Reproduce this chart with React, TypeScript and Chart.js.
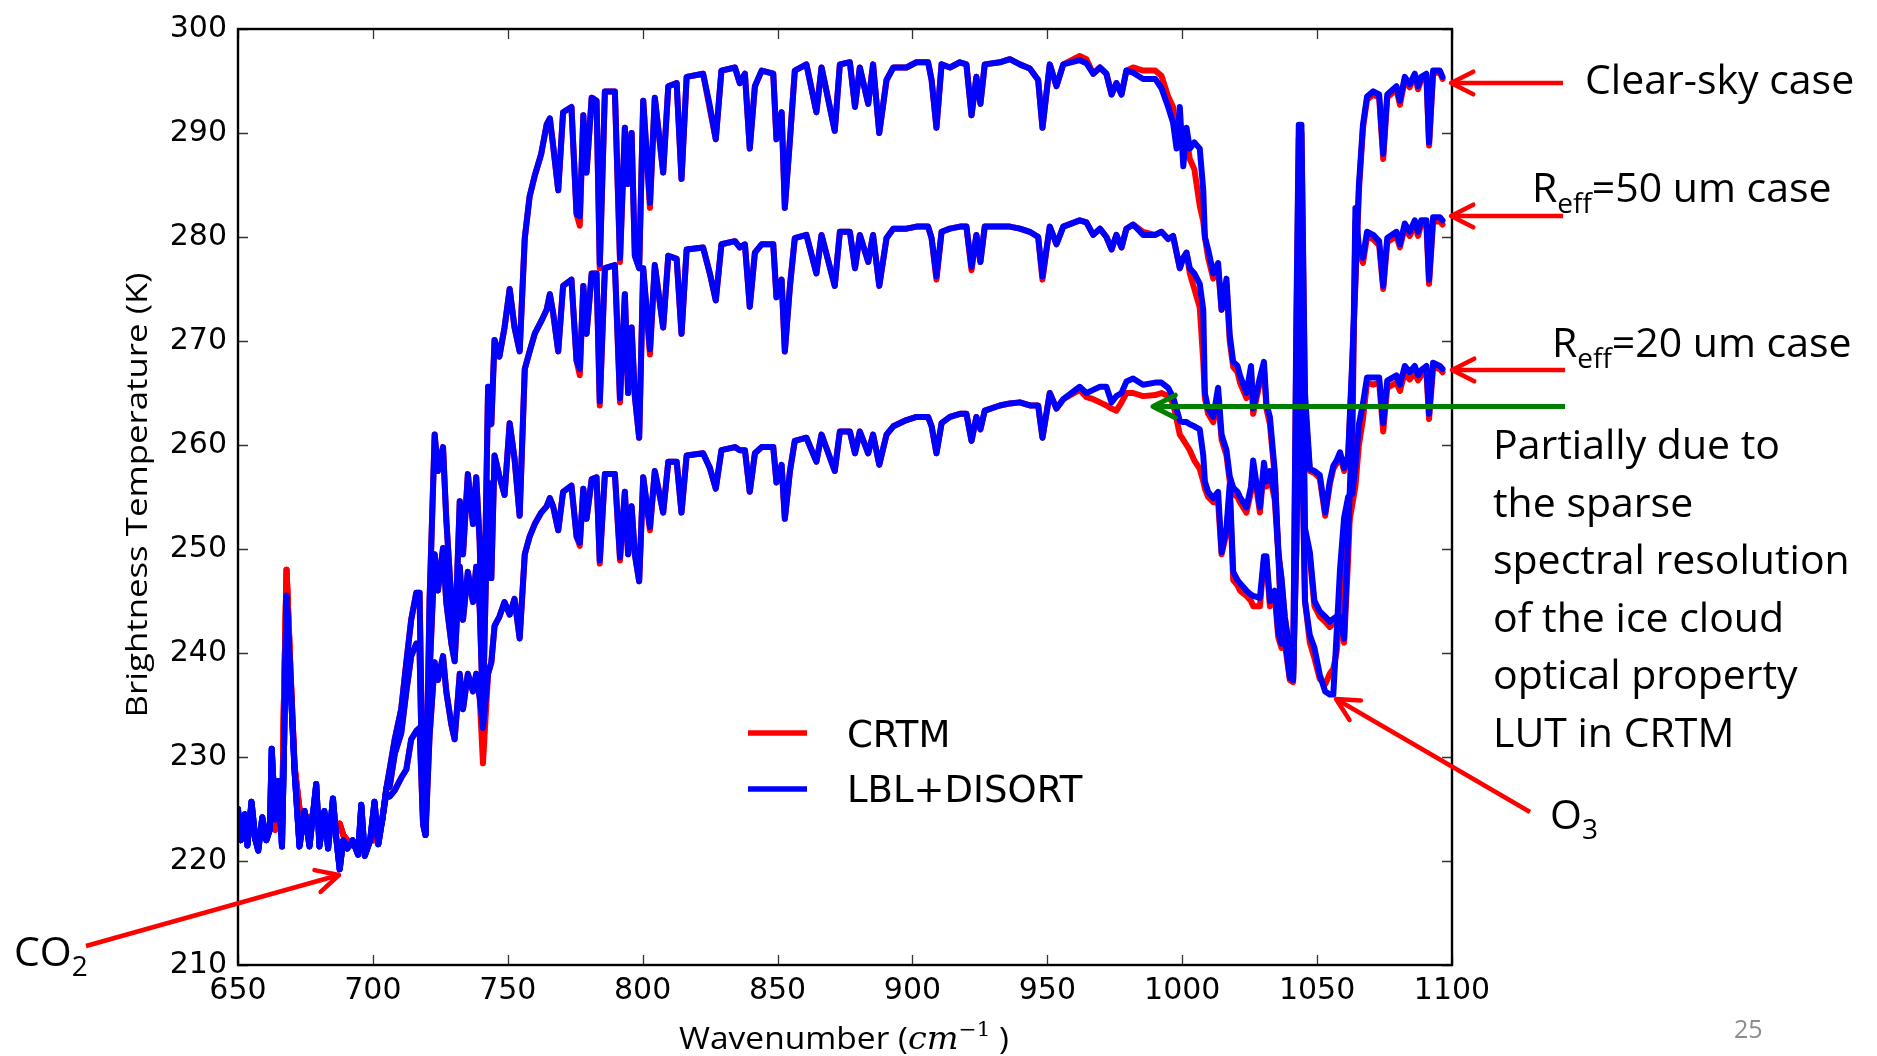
import React, { useEffect, useRef } from "react";
import { Chart, registerables } from "chart.js";

Chart.register(...registerables);

// ---------- DATA ----------
// Wavenumbers (cm^-1) of the opaque CO2 band, where all three cases coincide
const wnCO2 = [650, 651, 652.5, 653.5, 655, 656.5, 657.5, 659, 660.5, 661.8, 662.5, 663.8, 665, 666.3, 667, 668, 669.5, 671, 672.8, 674.7, 676.5, 679, 680.2, 682, 683.4, 685.2, 686.5, 687.7, 689, 690.5, 692.5, 694.5, 695.7, 697, 699, 700.6, 702, 703.5];
const co2Crtm = [223, 222, 223, 222, 224, 222, 221.5, 223.5, 222.5, 223, 224, 223, 226, 223, 235, 248, 238, 229, 225, 224.5, 224, 225, 224, 224.5, 224, 224, 223, 223.6, 222.5, 222, 221.5, 221.5, 221.5, 221, 222, 222, 222.5, 224];
const co2Lbl = [225, 222, 224.5, 221.5, 225.7, 222, 221, 224.2, 222, 223, 230.8, 224, 227.7, 221.4, 230, 245.5, 237, 228.5, 221.4, 224.8, 221.4, 227.4, 221.4, 224.8, 221.2, 226, 222, 219.2, 222, 221.2, 222, 220.6, 225.4, 220.5, 222, 225.7, 221.6, 224];

// Wavenumbers (cm^-1) for the rest of the spectrum, where the three cases split
const wnMain = [
  705, 706.2, 708.1, 710.5, 712.4, 714.2, 716.1, 717.3, 718.6, 719.5, 721, 722.9, 724.1, 726, 727.2, 729.1, 730.3, 732.2, 733.4, 735.2, 737.1, 738.3, 739.6, 740.8, 742.7, 743.9, 745.1, 746.9, 748.8, 750.7, 752.5, 754.4, 756.3, 758.1, 760, 762.4,
  764.4, 765.6, 766.8, 768.7, 770.5, 773.6, 775.5, 776.7, 778, 779.2, 781.1, 782.9, 784.1, 786, 789.7, 791.6, 793.4, 794.6, 795.9, 797.1, 798.7, 800.2, 802.7, 804.5, 807.6, 809.5, 812.6, 814.4, 816.3, 822.4, 824.9, 827.1, 829.2, 834.2, 836, 837.9, 839.7, 841.6, 844.1, 848.4, 849.6, 851.5, 852.7, 854.6, 856.4, 860.7, 864.4, 866.3, 871.2, 873.1, 876.8,
  878.7, 880.5, 883.6, 885.4, 887.7, 890.4, 892.9, 897.8, 901.5, 905.8, 907.1, 908.9, 910.8, 913.9, 917.6, 920, 921.9, 923.7, 925.2, 926.8, 932.4, 936.1, 939.8, 943.5, 946.6, 948.2, 950.9, 953.4, 955.9, 962, 964.5, 967, 969.5, 971.9, 973.8, 975.6, 977.5, 979.3, 981.8, 985.5,
  990, 992.3, 994.8, 996.6, 997.9, 999.1, 1000.4, 1001.6, 1002.8, 1004.5, 1006.5, 1007.8, 1008.4, 1009.6, 1011.5, 1013.3, 1014.6, 1016.4, 1017.6, 1018.9, 1020.5, 1021.4, 1023.8, 1025.5, 1026.3, 1028.8, 1030.3, 1031.2, 1032.5, 1034.3, 1035.6, 1036.8, 1038, 1039.9, 1041.1, 1042.3, 1043.2, 1044.2, 1045.5, 1047.3, 1049, 1051, 1053, 1054.7, 1056, 1057.2, 1058.5, 1060, 1061.5, 1063, 1064.2, 1065.5, 1067, 1068.5, 1070.8, 1073, 1074.5, 1076, 1079.4, 1080.7, 1082.5, 1084.3, 1086.2, 1087.4, 1088.6, 1090.5, 1091.5, 1093, 1095.5, 1096.5,
];

// Clear-sky case (K)
const clearCrtm = [
  227, 228.8, 231.7, 234.6, 239.1, 243.2, 245.8, 245.8, 225, 222.5, 245, 261, 257.5, 259.8, 252.9, 244.9, 240.3, 254.6, 249.5, 257.2, 252.4, 256.9, 250.6, 236.9, 265.6, 262, 270.1, 268.5, 271.3, 275, 271.3, 269, 279.9, 283.9, 285.9, 288,
  290.8, 291.4, 288.8, 284.5, 292, 292.5, 282.2, 281.1, 291.7, 286.2, 293.4, 293.1, 277, 294, 294, 277.6, 290.5, 285.1, 290, 278.2, 277, 293.1, 282.8, 293.4, 286.2, 294.5, 294.8, 285.6, 295.4, 295.7, 292.3, 289.4, 296, 296.3, 294.8, 295.7, 288.5, 294.5, 296, 295.7, 289.4, 292, 282.8, 289.4, 296, 296.6, 292, 296.3, 290.2, 296.6, 296.8,
  292.5, 296.3, 292.8, 296.6, 290, 295.1, 296.3, 296.3, 296.8, 296.8, 295.1, 290.5, 296.6, 296.3, 296.8, 296.6, 291.7, 295.4, 292.8, 296.6, 296.8, 297.1, 296.6, 296.2, 295.1, 290.5, 296.6, 294.5, 296.6, 297.4, 297.1, 295.7, 296.3, 295.7, 293.7, 294.8, 293.7, 296, 296.3, 296,
  296, 295.5, 293.5, 292.5, 290, 290.5, 288, 289.5, 287.5, 286.5, 283, 281.5, 280, 278, 276, 277, 273, 275.5, 270, 267.5, 267, 266, 264.5, 267, 263, 266, 267.3, 263.5, 262, 257, 250, 247, 243.5, 240, 237.5, 270, 289.5, 290, 264, 257.5, 257.3, 256.8, 253.2, 256.2, 257.7, 258.2, 259, 257.5, 258.7, 267.5, 275.5, 284.5, 290.5, 293.2, 293.7, 293.4, 287.5, 293.4, 294.2, 292.7, 295.1, 294.4, 295.5, 294.2, 295.1, 295.5, 288.8, 295.8, 295.8, 295.2,
];
const clearLbl = [
  227, 228.8, 231.7, 234.6, 239.1, 243.2, 245.8, 245.8, 225, 222.5, 245, 261, 257.5, 259.8, 252.9, 244.9, 240.3, 254.6, 249.5, 257.2, 252.4, 256.9, 250.6, 236.9, 265.6, 262, 270.1, 268.5, 271.3, 275, 271.3, 269, 279.9, 283.9, 285.9, 288,
  290.8, 291.4, 288.8, 284.5, 292, 292.5, 282.2, 282, 291.7, 286.2, 293.4, 293.1, 277.4, 294, 294, 278, 290.5, 285.1, 290, 278.2, 277, 293.1, 283.3, 293.4, 286.2, 294.5, 294.8, 285.6, 295.4, 295.7, 292.6, 289.4, 296, 296.3, 294.8, 295.7, 288.5, 294.5, 296, 295.7, 289.4, 292, 282.8, 289.4, 296, 296.6, 292, 296.3, 290.2, 296.6, 296.8,
  292.5, 296.3, 292.8, 296.6, 290, 295.1, 296.3, 296.3, 296.8, 296.8, 295.1, 290.5, 296.6, 296.3, 296.8, 296.6, 291.7, 295.4, 292.8, 296.6, 296.8, 297.1, 296.6, 296.2, 295.1, 290.5, 296.6, 294.5, 296.6, 297, 296.7, 295.7, 296.3, 295.7, 293.7, 294.8, 293.7, 296, 295.8, 295.2,
  295.2, 294.3, 292.5, 291, 288.5, 292.5, 286.8, 290.5, 288.5, 289.1, 288.5, 284.5, 280, 278.8, 276.5, 277.5, 273, 276, 270.6, 268, 267.6, 266.7, 265, 267.6, 263.5, 266.5, 268, 264, 262.7, 257.5, 249.5, 247.2, 243.5, 240, 237.4, 272, 290.8, 290.8, 265, 257.7, 257.5, 257.1, 253.5, 256.5, 258, 258.5, 259.3, 257.8, 259, 268, 276, 285, 290.8, 293.5, 294, 293.7, 288, 293.7, 294.5, 293.1, 295.4, 294.7, 295.7, 294.5, 295.4, 295.7, 289.1, 296, 296, 295.4,
];

// R_eff = 50 um case (K)
const r50Crtm = [
  227, 227.1, 230.3, 232.3, 236.3, 239.7, 240.9, 240.3, 224, 222.5, 238, 249.5, 246, 250.1, 244.9, 240.9, 239.2, 248.3, 243.2, 247.8, 244.9, 248.3, 244.3, 234.6, 256.4, 247.2, 259, 257, 255.2, 262.1, 258.7, 253.2, 267.3, 269, 270.7, 271.9,
  273, 274.5, 272.7, 269, 275.3, 275.9, 268.1, 266.7, 275.3, 270.7, 276.5, 276.5, 263.8, 277, 277.3, 264.1, 274.5, 265, 271.3, 264.7, 260.7, 277, 268.7, 277.3, 271.3, 278.2, 277.9, 270.7, 278.8, 279, 276.5, 273.9, 279.3, 279.6, 279, 279.3, 273.3, 278.5, 279.3, 279.3, 274.2, 275.9, 269, 275.3, 279.9, 280.2, 276.5, 280.2, 275.3, 280.5, 280.5,
  277, 280.2, 277.6, 280.2, 275.3, 279.9, 280.8, 280.8, 281, 281, 279.9, 275.9, 280.5, 280.8, 281, 281, 276.8, 280.2, 277.6, 281, 281, 281, 280.8, 280.5, 280, 275.9, 281, 279.3, 281, 281.6, 281.4, 280.2, 280.8, 280, 278.8, 280.2, 279, 280.8, 281.2, 280.5,
  280.2, 280.5, 279.8, 280.1, 278.5, 277, 278, 278.5, 276.5, 275, 273.2, 268, 264.5, 263, 262.2, 264.5, 260.5, 259, 256.5, 255.3, 255, 254.5, 253.5, 255.5, 258, 253.5, 257.8, 256, 257, 254.7, 249.5, 242.5, 241.5, 240.5, 238, 255, 277, 277.5, 251.5, 249.2, 244.5, 243.5, 243, 242.5, 242.8, 243, 243, 241, 249, 259, 281.5, 278.5, 277.5, 280, 279.8, 279.2, 275, 279.5, 280.1, 279, 280.9, 280.1, 281.2, 280.1, 281.2, 281.2, 275.5, 281.5, 281.5, 281.2,
];
const r50Lbl = [
  227, 227.1, 230.3, 232.3, 236.3, 239.7, 240.9, 240.3, 224, 222.5, 238, 249.5, 246, 250.1, 244.9, 240.9, 239.2, 248.3, 243.2, 247.8, 244.9, 248.3, 244.3, 234.6, 256.4, 247.2, 259, 257, 255.2, 262.1, 258.7, 253.2, 267.3, 269, 270.7, 271.9,
  273, 274.5, 272.7, 269, 275.3, 275.9, 268.1, 267.3, 275.3, 270.7, 276.5, 276.5, 264.2, 277, 277.3, 264.5, 274.5, 265, 271.3, 264.7, 260.7, 277, 269.2, 277.3, 271.3, 278.2, 277.9, 270.7, 278.8, 279, 276.5, 273.9, 279.3, 279.6, 279, 279.3, 273.3, 278.5, 279.3, 279.3, 274.2, 275.9, 269, 275.3, 279.9, 280.2, 276.5, 280.2, 275.3, 280.5, 280.5,
  277, 280.2, 277.6, 280.2, 275.3, 279.9, 280.8, 280.8, 281, 281, 279.9, 276.2, 280.5, 280.8, 281, 281, 277.1, 280.2, 277.6, 281, 281, 281, 280.8, 280.5, 280, 276.2, 281, 279.3, 281, 281.6, 281.4, 280.2, 280.8, 280, 278.8, 280.2, 279, 280.8, 281.2, 280.2,
  280.2, 280.5, 279.8, 280.1, 278.5, 277, 278, 278.5, 277, 276.5, 275.5, 273, 265, 263.5, 262.7, 265.5, 261, 259.5, 257, 255.9, 255.5, 255, 254, 256, 258.5, 254, 258.3, 256.5, 257.5, 255.2, 250, 243, 242, 241, 238.5, 255, 277.6, 278, 252, 249.7, 245, 244, 243.5, 243, 243.3, 243.5, 243.5, 241.4, 251.3, 262, 282.8, 279, 278, 280.5, 280.2, 279.6, 275.3, 279.9, 280.5, 279.3, 281.3, 280.5, 281.6, 280.5, 281.6, 281.6, 275.9, 281.9, 281.9, 281.6,
];

// R_eff = 20 um case (K)
const r20Crtm = [
  226.5, 226.2, 226.8, 228, 228.8, 231.7, 232.5, 232.8, 223.5, 222.5, 232, 239.1, 237.4, 239.7, 236.3, 233.1, 231.7, 238, 234.6, 238, 236.3, 238, 235.7, 229.4, 238, 239.1, 242.6, 243.5, 244.9, 243.7, 245.2, 241.4, 249.5, 251.2, 252.4, 253.5,
  254.1, 254.9, 254.1, 251.8, 255.5, 256.1, 251.2, 250.3, 255.8, 252.9, 256.7, 256.9, 248.6, 257.2, 257.2, 248.9, 255.5, 249.5, 254.1, 249.5, 246.9, 256.9, 251.8, 257.5, 253.5, 258.4, 258.4, 253.5, 259, 259.2, 257.8, 255.8, 259.5, 259.8, 259.5, 259.5, 255.5, 259.2, 259.8, 259.8, 256.4, 258.1, 252.9, 257.5, 260.4, 260.7, 258.4, 261, 257.5, 261.3, 261.3,
  259.2, 261.3, 259.2, 261, 258.1, 261, 261.8, 262.4, 262.7, 262.7, 261.8, 259.2, 262.1, 262.7, 263, 263, 260.4, 262.7, 261.5, 263.3, 263.8, 264, 264.1, 263.8, 263.8, 260.7, 265, 263.5, 264.4, 265.3, 264.6, 264.4, 264.1, 263.8, 263.5, 263.3, 264.1, 265, 265, 264.7,
  264.8, 265, 264.7, 264, 262.5, 261, 260.5, 260, 259.5, 258.5, 257.7, 256.5, 255.8, 255, 254.5, 254.5, 249.5, 251.5, 255.5, 247, 246.5, 246, 245.5, 245, 244.5, 244.5, 249, 249, 244.5, 245.5, 241.5, 240.5, 241, 237.4, 237.2, 250, 265, 264, 245, 241, 239.5, 237.5, 237, 238, 238.5, 240, 243.5, 249, 252, 254.2, 256, 260, 262.5, 266, 265.8, 266, 261.3, 265.5, 266, 265.2, 267, 266.3, 267, 266.2, 266.7, 267, 262.5, 267.5, 267.3, 267,
];
const r20Lbl = [
  226.5, 226.2, 226.8, 228, 228.8, 231.7, 232.5, 232.8, 223.5, 222.5, 232, 239.1, 237.4, 239.7, 236.3, 233.1, 231.7, 238, 234.6, 238, 236.3, 238, 235.7, 232.8, 238, 239.1, 242.6, 243.5, 244.9, 243.7, 245.2, 241.4, 249.5, 251.2, 252.4, 253.5,
  254.1, 254.9, 254.1, 251.8, 255.5, 256.1, 251.2, 250.6, 255.8, 252.9, 256.7, 256.9, 248.9, 257.2, 257.2, 249.2, 255.5, 249.5, 254.1, 249.5, 246.9, 256.9, 252.1, 257.5, 253.5, 258.4, 258.4, 253.5, 259, 259.2, 257.8, 255.8, 259.5, 259.8, 259.5, 259.5, 255.5, 259.2, 259.8, 259.8, 256.4, 258.1, 252.9, 257.5, 260.4, 260.7, 258.4, 261, 257.5, 261.3, 261.3,
  259.2, 261.3, 259.2, 261, 258.1, 261, 261.8, 262.4, 262.7, 262.7, 261.8, 259.2, 262.1, 262.7, 263, 263, 260.4, 262.7, 261.5, 263.3, 263.8, 264, 264.1, 263.8, 263.8, 260.7, 265, 263.5, 264.4, 265.6, 265, 265.3, 265.6, 265.6, 264.1, 264.7, 265, 266.1, 266.4, 265.8,
  266, 266, 265.5, 264.6, 263.5, 262.3, 262.2, 262.2, 262, 261.8, 261.5, 259, 256.5, 255.5, 254.9, 255.5, 249.7, 252, 256.2, 247.8, 247, 246.7, 246, 245.6, 245.5, 245.3, 249.3, 249.3, 245, 246, 242, 240.9, 241.5, 237.6, 237.5, 250, 265, 264, 245, 241.7, 240.5, 237.9, 236.3, 236, 236, 241.7, 248.1, 253, 255, 255.3, 258, 262, 264, 266.5, 266.5, 266.5, 262.1, 266.2, 266.7, 265.8, 267.6, 267, 267.6, 266.7, 267.2, 267.6, 263, 267.9, 267.6, 267.3,
];

const xTicks = [650, 700, 750, 800, 850, 900, 950, 1000, 1050, 1100];
const yTicks = [210, 220, 230, 240, 250, 260, 270, 280, 290, 300];
const seriesLabels = ["CRTM", "LBL+DISORT"];
const caseLabels = ["Clear-sky case", "=50 um case", "=20 um case"];
const noteLines = ["Partially due to", "the sparse", "spectral resolution", "of the ice cloud", "optical property", "LUT in CRTM"];

const RED = "#ff0000";
const BLUE = "#0000ff";
const GREEN = "#008000";
const ANN_FONT = '41px "Open Sans"';
const SUB_FONT = '28px "Open Sans"';
const LINE_W = 6;

function arrow(ctx: CanvasRenderingContext2D, tx: number, ty: number, hx: number, hy: number, color: string, width: number) {
  ctx.save();
  ctx.strokeStyle = color;
  ctx.lineWidth = width;
  ctx.lineCap = "butt";
  ctx.lineJoin = "round";
  ctx.beginPath();
  ctx.moveTo(tx, ty);
  ctx.lineTo(hx, hy);
  ctx.stroke();
  const ang = Math.atan2(ty - hy, tx - hx);
  const len = 25;
  const spread = (27 * Math.PI) / 180;
  ctx.lineCap = "round";
  ctx.beginPath();
  ctx.moveTo(hx + len * Math.cos(ang + spread), hy + len * Math.sin(ang + spread));
  ctx.lineTo(hx, hy);
  ctx.lineTo(hx + len * Math.cos(ang - spread), hy + len * Math.sin(ang - spread));
  ctx.stroke();
  ctx.restore();
}

function rich(ctx: CanvasRenderingContext2D, x: number, base: number, parts: { t: string; font: string; dy?: number }[]) {
  let cx = x;
  for (const p of parts) {
    ctx.font = p.font;
    ctx.fillText(p.t, cx, base + (p.dy || 0));
    cx += ctx.measureText(p.t).width;
  }
}

const decorPlugin = {
  id: "decor",
  afterDraw(chart: any) {
    const ctx: CanvasRenderingContext2D = chart.ctx;
    const a = chart.chartArea;
    const xs = chart.scales.x;
    const ys = chart.scales.y;
    ctx.save();
    ctx.strokeStyle = "#333";
    ctx.lineWidth = 1.3;
    ctx.beginPath();
    for (const v of xTicks) {
      const px = Math.round(xs.getPixelForValue(v)) + 0.5;
      ctx.moveTo(px, a.bottom);
      ctx.lineTo(px, a.bottom - 10);
      ctx.moveTo(px, a.top);
      ctx.lineTo(px, a.top + 10);
    }
    for (const v of yTicks) {
      const py = Math.round(ys.getPixelForValue(v)) + 0.5;
      ctx.moveTo(a.left, py);
      ctx.lineTo(a.left + 10, py);
      ctx.moveTo(a.right, py);
      ctx.lineTo(a.right - 10, py);
    }
    ctx.stroke();
    ctx.strokeStyle = "#000";
    ctx.lineWidth = 2.4;
    ctx.strokeRect(a.left, a.top, a.right - a.left, a.bottom - a.top);

    // legend
    ctx.lineWidth = 5.5;
    ctx.lineCap = "butt";
    ctx.strokeStyle = RED;
    ctx.beginPath(); ctx.moveTo(748, 733); ctx.lineTo(807, 733); ctx.stroke();
    ctx.strokeStyle = BLUE;
    ctx.beginPath(); ctx.moveTo(748, 789); ctx.lineTo(807, 789); ctx.stroke();
    ctx.fillStyle = "#000";
    ctx.font = '37px "DejaVu Sans"';
    ctx.textAlign = "left";
    ctx.textBaseline = "alphabetic";
    ctx.fillText(seriesLabels[0], 847, 747);
    ctx.fillText(seriesLabels[1], 847, 802);

    // y axis title
    ctx.save();
    ctx.font = '30px "Open Sans"';
    const yt = "Brightness Temperature (K)";
    const ytw = ctx.measureText(yt).width;
    ctx.translate(147, 495);
    ctx.rotate(-Math.PI / 2);
    ctx.scale(445 / ytw, 1);
    ctx.textAlign = "center";
    ctx.fillText(yt, 0, 0);
    ctx.restore();

    // x axis title
    ctx.save();
    const xParts = [
      { t: "Wavenumber (", font: '31px "Open Sans"', dy: 0 },
      { t: "cm", font: 'italic 31px "DejaVu Serif"', dy: 0 },
      { t: "\u22121", font: '20px "DejaVu Serif"', dy: -13 },
      { t: " )", font: '31px "Open Sans"', dy: 0 },
    ];
    let xw = 0;
    for (const p of xParts) { ctx.font = p.font; xw += ctx.measureText(p.t).width; }
    ctx.translate(679, 1049);
    ctx.scale(330 / xw, 1);
    rich(ctx, 0, 0, xParts);
    ctx.restore();

    // right-side labels and arrows
    ctx.fillStyle = "#000";
    ctx.font = ANN_FONT;
    ctx.fillText(caseLabels[0], 1585, 94);
    rich(ctx, 1532, 202, [
      { t: "R", font: ANN_FONT },
      { t: "eff", font: SUB_FONT, dy: 11 },
      { t: caseLabels[1], font: ANN_FONT },
    ]);
    rich(ctx, 1552, 357, [
      { t: "R", font: ANN_FONT },
      { t: "eff", font: SUB_FONT, dy: 11 },
      { t: caseLabels[2], font: ANN_FONT },
    ]);
    arrow(ctx, 1563, 83, 1451, 83, RED, 4.5);
    arrow(ctx, 1563, 216, 1451, 216, RED, 4.5);
    arrow(ctx, 1565, 370, 1452, 370, RED, 4.5);
    arrow(ctx, 1565, 406.5, 1153, 406.5, GREEN, 5);

    ctx.font = ANN_FONT;
    ctx.fillStyle = "#000";
    noteLines.forEach((line, i) => ctx.fillText(line, 1493, 459 + i * 57.5));

    rich(ctx, 14, 966, [
      { t: "CO", font: ANN_FONT },
      { t: "2", font: SUB_FONT, dy: 10 },
    ]);
    arrow(ctx, 86, 946, 339, 875, RED, 4.5);
    rich(ctx, 1550, 829, [
      { t: "O", font: ANN_FONT },
      { t: "3", font: SUB_FONT, dy: 10 },
    ]);
    arrow(ctx, 1530, 812, 1336, 699, RED, 4.5);

    ctx.fillStyle = "#8c8c8c";
    ctx.font = '25px "Open Sans"';
    ctx.fillText("25", 1734, 1038);
    ctx.restore();
  },
};

export default function App() {
  const ref = useRef<HTMLCanvasElement>(null);
  useEffect(() => {
    const canvas = ref.current;
    if (!canvas) return;
    const wnAll = wnCO2.concat(wnMain);
    const pts = (co2: number[], main: number[]) => {
      const t = co2.concat(main);
      return wnAll.map((x, i) => ({ x, y: t[i] }));
    };
    const ds = (label: string, color: string, data: { x: number; y: number }[]) => ({
      label,
      data,
      borderColor: color,
      backgroundColor: color,
      borderWidth: LINE_W,
      pointRadius: 0,
      fill: false,
      tension: 0,
      borderJoinStyle: "round" as const,
      borderCapStyle: "round" as const,
    });
    const chart = new Chart(canvas, {
      type: "line",
      data: {
        datasets: [
          ds("LBL+DISORT clear", BLUE, pts(co2Lbl, clearLbl)),
          ds("LBL+DISORT 50um", BLUE, pts(co2Lbl, r50Lbl)),
          ds("LBL+DISORT 20um", BLUE, pts(co2Lbl, r20Lbl)),
          ds("CRTM clear", RED, pts(co2Crtm, clearCrtm)),
          ds("CRTM 50um", RED, pts(co2Crtm, r50Crtm)),
          ds("CRTM 20um", RED, pts(co2Crtm, r20Crtm)),
        ],
      },
      options: {
        animation: false,
        responsive: false,
        devicePixelRatio: 1,
        events: [],
        layout: { padding: { left: 0, top: 25, right: 425, bottom: 0 } },
        plugins: { legend: { display: false }, tooltip: { enabled: false }, title: { display: false } },
        scales: {
          x: {
            type: "linear",
            min: 650,
            max: 1100,
            grid: { display: false, drawTicks: false },
            border: { display: false },
            afterBuildTicks: (s: any) => { s.ticks = xTicks.map((v) => ({ value: v })); },
            afterFit: (s: any) => { s.height = 91; },
            ticks: {
              font: { family: "DejaVu Sans", size: 30 },
              color: "#000",
              padding: 8,
              maxRotation: 0,
              autoSkip: false,
              callback: (v: any) => String(v),
            },
          },
          y: {
            type: "linear",
            min: 210,
            max: 300,
            grid: { display: false, drawTicks: false },
            border: { display: false },
            afterBuildTicks: (s: any) => { s.ticks = yTicks.map((v) => ({ value: v })); },
            afterFit: (s: any) => { s.width = 238; },
            ticks: {
              font: { family: "DejaVu Sans", size: 30 },
              color: "#000",
              padding: 11,
              autoSkip: false,
              callback: (v: any) => String(v),
            },
          },
        },
      } as any,
      plugins: [decorPlugin],
    });
    return () => chart.destroy();
  }, []);
  return (
    <div style={{ position: "fixed", left: 0, top: 0, width: 1877, height: 1056, background: "#fff" }}>
      <canvas ref={ref} width={1877} height={1056} style={{ display: "block", width: 1877, height: 1056 }} />
    </div>
  );
}
